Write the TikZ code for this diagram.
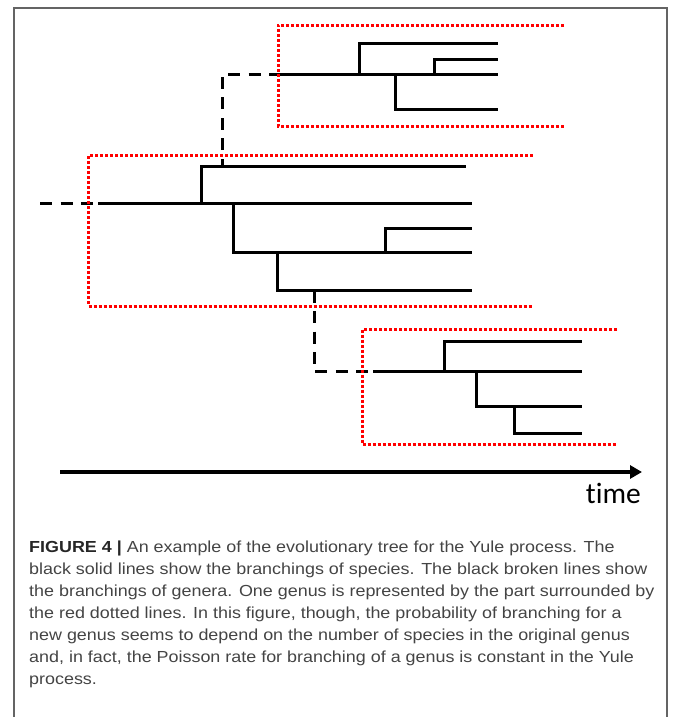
\documentclass[tikz,border=0pt]{standalone}
\usepackage{fontspec}
\setmainfont{Liberation Sans}
\newfontfamily\capfont{Liberation Sans}[FakeStretch=1.12]
\newfontfamily\axisfont{Carlito}[Ligatures=NoCommon]
\usetikzlibrary{arrows.meta}
\definecolor{captext}{RGB}{68,68,68}
\definecolor{framegray}{RGB}{100,100,100}
\begin{document}
\begin{tikzpicture}[x=1pt, y=-1pt,
  species line/.style={line width=3pt},
  genus line/.style={line width=3pt, dash pattern=on 12pt off 8.5pt},
  genus box/.style={red, line width=3pt, dash pattern=on 3pt off 2pt},
  time axis/.style={line width=4pt, -{Triangle[length=12pt,width=13pt]}}]
\useasboundingbox (0,0) rectangle (672,717);
\draw[framegray, line width=1.3pt] (14,720) |- (667,8) -- (667,720);
\begin{scope}
% genus in the middle
\coordinate (mstub) at (40,203.3);
\coordinate (mroot) at (98.3,203.3);
\coordinate (mtip1) at (472,203.3);
\coordinate (ma) at (201,203.3);
\coordinate (mtip2) at (466,166.7);
\coordinate (mb) at (233.3,203.3);
\coordinate (mtip3) at (472,252.3);
\coordinate (mc) at (385.7,252.3);
\coordinate (mtip4) at (472,228.3);
\coordinate (md) at (277.7,252.3);
\coordinate (mtip5) at (472,290.7);
\coordinate (mup) at (222,166.7);
\coordinate (mdown) at (314.3,290.7);
% genus at the top
\coordinate (troot) at (279.3,74.3);
\coordinate (ttip1) at (498,74.3);
\coordinate (ta) at (359.5,74.3);
\coordinate (ttip2) at (498,43.7);
\coordinate (tb) at (434.8,74.3);
\coordinate (ttip3) at (498,59.3);
\coordinate (tc) at (395.6,74.3);
\coordinate (ttip4) at (498,109.3);
% genus at the bottom
\coordinate (lroot) at (373.3,371.7);
\coordinate (ltip1) at (582.4,371.7);
\coordinate (la) at (444.3,371.7);
\coordinate (ltip2) at (582.4,341.3);
\coordinate (lb) at (476.5,371.7);
\coordinate (ltip3) at (582.4,406.3);
\coordinate (lc) at (514.8,406.3);
\coordinate (ltip4) at (582.4,433);
\end{scope}
\begin{scope}[species line]
\draw (mroot) -- (mtip1);
\draw (ma) |- (mtip2);
\draw (mb) |- (mtip3);
\draw (mc) |- (mtip4);
\draw (md) |- (mtip5);
\draw (troot) -- (ttip1);
\draw (ta) |- (ttip2);
\draw (tb) |- (ttip3);
\draw (tc) |- (ttip4);
\draw (lroot) -- (ltip1);
\draw (la) |- (ltip2);
\draw (lb) |- (ltip3);
\draw (lc) |- (ltip4);
\end{scope}
\begin{scope}[genus line]
\draw (mstub) -- (mroot);
\draw[dash phase=4pt] (mup) |- (troot);
\draw (mdown) |- (lroot);
\end{scope}
\begin{scope}[genus box]
\draw (564,25.3) -| (278,126) -- (564,126);
\draw (532.5,155.5) -| (88.3,306) -- (532.5,306);
\draw (617,329.3) -| (362.3,444.3) -- (617,444.3);
\end{scope}
\coordinate (tstart) at (60,472);
\coordinate (tend) at (642,472);
\draw[time axis] (tstart) -- (tend);
\node[anchor=base east, inner sep=0pt, font=\axisfont\fontsize{29.5}{29.5}\selectfont] (timelabel) at (641,503) {time};
\node[anchor=north west, inner sep=0pt, align=left, text=captext,
  font=\capfont\fontsize{16}{21.9}\selectfont] (caption) at (29,541)
  {{\color{black!85}\bfseries FIGURE 4 |} An example of the evolutionary tree for the Yule process. The\\
  black solid lines show the branchings of species. The black broken lines show\\
  the branchings of genera. One genus is represented by the part surrounded by\\
  the red dotted lines. In this figure, though, the probability of branching for a\\
  new genus seems to depend on the number of species in the original genus\\
  and, in fact, the Poisson rate for branching of a genus is constant in the Yule\\
  process.};
\end{tikzpicture}
\end{document}
